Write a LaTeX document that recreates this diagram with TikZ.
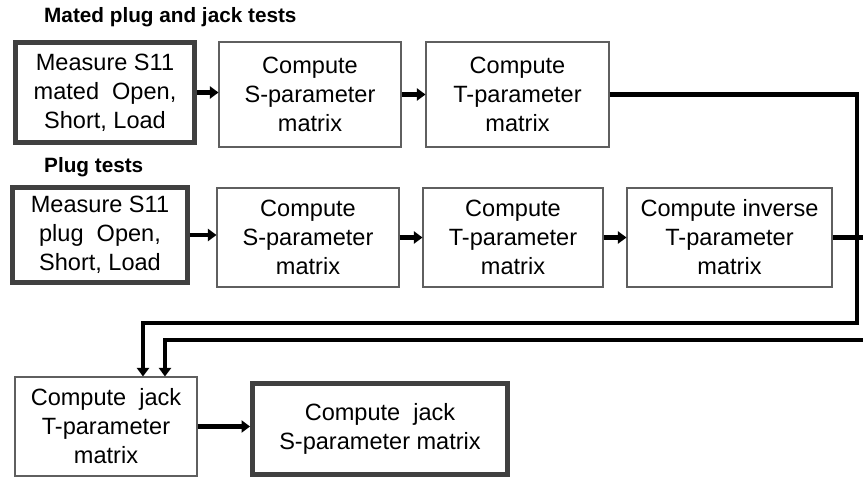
\documentclass[tikz,border=0pt]{standalone}
\usepackage{fontspec}
\setmainfont{Liberation Sans}
\usetikzlibrary{arrows.meta}
\definecolor{boxline}{RGB}{95,95,95}
\definecolor{keyline}{RGB}{64,64,64}
\tikzset{
  procbox/.style={draw=boxline, line width=0.6pt, align=center, inner sep=1pt,
    minimum height=1.98cm, font=\fontsize{13.4}{16.5}\selectfont},
  keybox/.style={procbox, draw=keyline, line width=2.85pt},
  heading/.style={anchor=west, font=\fontsize{11.8}{14}\selectfont\bfseries},
  conn/.style={line width=2.3pt},
  flow/.style={conn, -{Triangle[length=0.17cm, width=0.24cm]}}
}
\begin{document}
\begin{tikzpicture}[x=0.02cm, y=-0.02cm]
    \useasboundingbox (0,0) rectangle (863,480);
    \clip (0,0) rectangle (863,480);

    % Mated plug and jack tests
    \node[heading] (matedtitle) at (38,17) {Mated plug and jack tests};
    \node[keybox, minimum width=3.58cm, minimum height=2cm] (matedmeas) at (105,92.5)
        {Measure S11\\mated~ Open,\\Short, Load};
    \node[procbox, minimum width=3.64cm, minimum height=2.1cm] (matedS) at (310,94.5)
        {Compute\\S-parameter\\matrix};
    \node[procbox, minimum width=3.66cm, minimum height=2.1cm] (matedT) at (517.5,94.5)
        {Compute\\T-parameter\\matrix};

    % Plug tests
    \node[heading] (plugtitle) at (38,167) {Plug tests};
    \node[keybox, minimum width=3.5cm, minimum height=1.9cm] (plugmeas) at (100,235)
        {Measure S11\\plug~ Open,\\Short, Load};
    \node[procbox, minimum width=3.64cm] (plugS) at (308,237.5)
        {Compute\\S-parameter\\matrix};
    \node[procbox, minimum width=3.6cm] (plugT) at (513,237.5)
        {Compute\\T-parameter\\matrix};
    \node[procbox, minimum width=4.1cm] (pluginv) at (729.5,237.5)
        {Compute inverse\\T-parameter\\matrix};

    % Jack result
    \node[procbox, minimum width=3.64cm] (jackT) at (106,426.5)
        {Compute~ jack\\T-parameter\\matrix};
    \node[keybox, minimum width=5.1cm, minimum height=1.82cm] (jackS) at (380,429)
        {Compute~ jack\\S-parameter matrix};

    % Arrows between boxes
    \draw[flow] (matedmeas.east) -- (matedmeas.east -| matedS.west);
    \draw[flow] (matedS.east) -- (matedS.east -| matedT.west);
    \draw[flow] (plugmeas.east) -- (plugmeas.east -| plugS.west);
    \draw[flow] (plugS.east) -- (plugS.east -| plugT.west);
    \draw[flow] (plugT.east) -- (plugT.east -| pluginv.west);
    \draw[flow] (jackT.east) -- (jackT.east -| jackS.west);

    % Feedback lines into the jack box
    \coordinate (matedturn) at (857,323);
    \coordinate (plugturn) at (875,340);
    \draw[flow] (matedT.east) -| (matedturn) -| ([xshift=0.74cm]jackT.north);
    \draw[flow] (pluginv.east) -| (plugturn) -| ([xshift=1.18cm]jackT.north);
\end{tikzpicture}
\end{document}
